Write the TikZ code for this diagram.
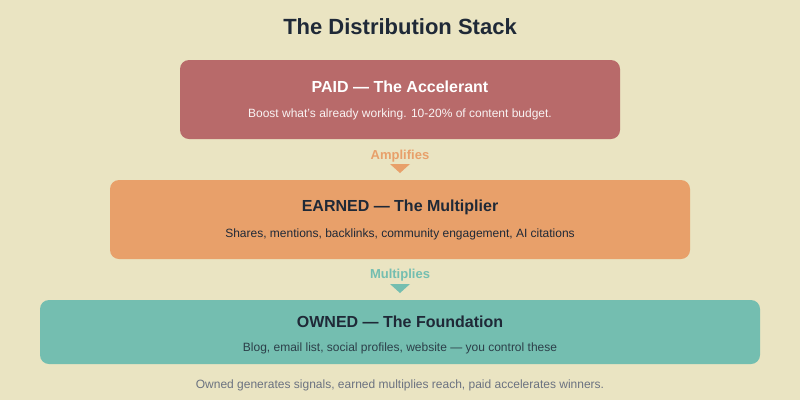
\documentclass[tikz,border=0pt]{standalone}
\usepackage{fontspec}
\setmainfont{Liberation Sans}
\definecolor{bg}{RGB}{234,228,194}
\definecolor{paid}{RGB}{184,106,106}
\definecolor{earned}{RGB}{232,160,106}
\definecolor{owned}{RGB}{116,190,176}
\definecolor{ink}{RGB}{31,41,55}
\definecolor{muted}{RGB}{107,114,128}
\begin{document}
\begin{tikzpicture}[x=1pt,y=-1pt,
  tiertitle/.style={font=\bfseries\fontsize{16}{19}\selectfont, anchor=center},
  tiersub/.style={font=\fontsize{12}{14}\selectfont, anchor=center},
  flowlabel/.style={font=\bfseries\fontsize{13}{15}\selectfont, anchor=center}
]
\fill[bg] (0,0) rectangle (800,400);
\useasboundingbox (0,0) rectangle (800,400);
\node[font=\bfseries\fontsize{22}{26}\selectfont, text=ink] (title) at (400,27) {The Distribution Stack};
% PAID
\fill[paid, rounded corners=9pt] (180,60) rectangle (620,139);
\node[tiertitle, text=white] (paidt) at (400,87) {PAID — The Accelerant};
\node[tiersub, text=white!92!paid] (paids) at (400,114) {Boost what's already working. 10-20\% of content budget.};
% arrow 1
\node[flowlabel, text=earned] (amp) at (400,156) {Amplifies};
\fill[earned] (390,164) -- (410,164) -- (400,173) -- cycle;
% EARNED
\fill[earned, rounded corners=9pt] (110,180) rectangle (690,259);
\node[tiertitle, text=ink] (earnedt) at (400,207) {EARNED — The Multiplier};
\node[tiersub, text=ink] (earneds) at (400,234) {Shares, mentions, backlinks, community engagement, AI citations};
% arrow 2
\node[flowlabel, text=owned] (mult) at (400,275) {Multiplies};
\fill[owned] (390,284) -- (410,284) -- (400,293) -- cycle;
% OWNED
\fill[owned, rounded corners=9pt] (40,300) rectangle (760,364);
\node[tiertitle, text=ink] (ownedt) at (400,322) {OWNED — The Foundation};
\node[tiersub, text=ink!85!owned] (owneds) at (400,348) {Blog, email list, social profiles, website — you control these};
% footer
\node[tiersub, text=muted] (foot) at (400,385) {Owned generates signals, earned multiplies reach, paid accelerates winners.};
\end{tikzpicture}
\end{document}
